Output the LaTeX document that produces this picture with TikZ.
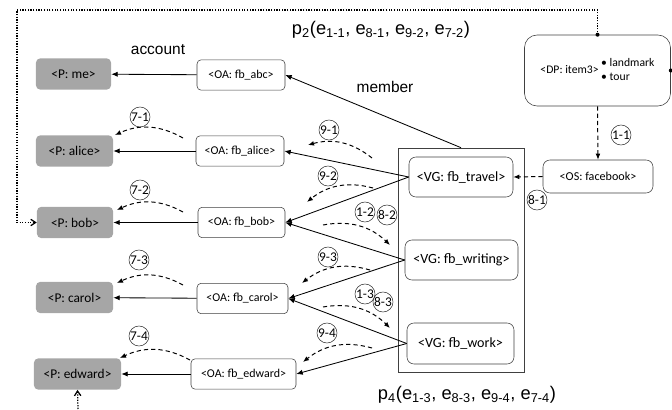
\documentclass[tikz,border=0pt]{standalone}
\usepackage{fontspec}
\setmainfont{Liberation Sans}
\newfontfamily\boxfont{Carlito}
\usetikzlibrary{arrows.meta,positioning}
\definecolor{PGray}{HTML}{A6A6A6}
\definecolor{BEdge}{HTML}{404040}

\begin{document}
\begin{tikzpicture}[
  x=0.025cm,y=0.025cm,
  pb/.style={fill=PGray,rounded corners=3pt,minimum height=0.78cm,
    font=\boxfont\fontsize{9.5}{11}\selectfont,inner sep=1pt},
  oa/.style={draw=BEdge,rounded corners=3pt,fill=white,minimum height=0.76cm,
    font=\boxfont\fontsize{8.5}{10}\selectfont,inner sep=1pt},
  vg/.style={draw=BEdge,rounded corners=5pt,fill=white,minimum height=1cm,
    font=\boxfont\fontsize{10}{12}\selectfont,inner sep=1pt},
  num/.style={circle,draw=black!80,inner sep=0pt,minimum size=0.5cm,
    font=\boxfont\fontsize{9.5}{10}\selectfont},
  big/.style={font=\fontsize{11}{13}\selectfont},
  a/.style={-{Latex[length=1.6mm,width=1.3mm]},line width=0.6pt},
  da/.style={-{Latex[length=1.5mm,width=1.2mm]},dash pattern=on 3pt off 2.2pt,line width=0.7pt},
  dt/.style={-{Straight Barb[length=1.2mm,width=1.6mm]},densely dotted,line width=0.9pt}
]
  \useasboundingbox (0,0) rectangle (672,409);

  % persons
  \node[pb,minimum width=1.875cm] (pme) at (73.5,335) {<P: me>};
  \node[pb,minimum width=1.925cm] (palice) at (74.5,258) {<P: alice>};
  \node[pb,minimum width=1.9cm] (pbob) at (75,186.5) {<P: bob>};
  \node[pb,minimum width=1.925cm] (pcarol) at (74.5,111.5) {<P: carol>};
  \node[pb,minimum width=2.175cm] (pedward) at (77.5,35) {<P: edward>};

  % online accounts
  \node[oa,minimum width=2.2cm] (oaabc) at (241,334) {<OA: fb\_abc>};
  \node[oa,minimum width=2.2cm] (oaalice) at (240,258) {<OA: fb\_alice>};
  \node[oa,minimum width=2.175cm] (oabob) at (241.5,186.5) {<OA: fb\_bob>};
  \node[oa,minimum width=2.275cm] (oacarol) at (242.5,110.5) {<OA: fb\_carol>};
  \node[oa,minimum width=2.625cm] (oaedward) at (243.5,35) {<OA: fb\_edward>};

  % groups
  \node[draw=BEdge,minimum width=3.15cm,minimum height=5.6cm] (grp) at (461,149) {};
  \node[vg,minimum width=2.6cm] (travel) at (461,232) {<VG: fb\_travel>};
  \node[vg,minimum width=2.825cm] (writing) at (461.5,149) {<VG: fb\_writing>};
  \node[vg,minimum width=2.675cm,minimum height=1.025cm] (work) at (460.5,65.5) {<VG: fb\_work>};

  \node[oa,rounded corners=5pt,minimum width=2.75cm,minimum height=0.825cm,
    font=\boxfont\fontsize{8.6}{10}\selectfont] (os) at (598,232.5) {<OS: facebook>};
  \node[draw=BEdge,rounded corners=9pt,minimum width=3.65cm,minimum height=1.775cm,
    inner sep=1pt,font=\boxfont\fontsize{8.3}{10}\selectfont] (dp) at (597.5,338.5)
    {<DP: item3>\ \begin{tabular}{@{}l@{}}\textbullet\ landmark\\\textbullet\ tour\end{tabular}};

  % texts
  \node[big] (acc) at (158,359) {account};
  \node[big] (mem) at (385,322) {member};
  \node[font=\fontsize{13}{15}\selectfont] (ptwo) at (381,379)
    {p\textsubscript{2}(e\textsubscript{1-1}, e\textsubscript{8-1}, e\textsubscript{9-2}, e\textsubscript{7-2})};
  \node[font=\fontsize{13}{15}\selectfont] (pfour) at (467,14)
    {p\textsubscript{4}(e\textsubscript{1-3}, e\textsubscript{8-3}, e\textsubscript{9-4}, e\textsubscript{7-4})};

  % solid connectors
  \foreach \x/\y in {abc/me,alice/alice,bob/bob,carol/carol,edward/edward}
    {\draw[a] (oa\x) -- (p\y);}
  \foreach \x/\y in {travel/alice,travel/bob,writing/bob,writing/carol,work/carol,work/edward}
    {\draw[a] (\x.west) -- (oa\y.east);}
  \draw[a] (grp.north) -- (oaabc.east);

  % dashed connectors
  \draw[da] (dp.south) -- (os.north);
  \draw[da] (os.west) -- (travel.east);
  \foreach \n/\sx/\sy/\ex/\ey/\b in {71/183/271/115/274/right,72/183/197/117/199/right,
      73/183/124/117/126/right,74/190/49/120/51/right,91/372/251/308/264/right,
      92/373/221/307/207/right,93/370/139/302/126/right,94/372/61/303/47/right,
      12/323/184/390/164/left,13/323/102/390/81/left}
    {\coordinate (s\n) at (\sx,\sy);
     \coordinate (e\n) at (\ex,\ey);
     \draw[da] (s\n) to[bend \b=27] (e\n);}

  % numbered edges
  \foreach \t/\x/\y in {7-1/140/292,7-2/140/219,7-3/139/149,7-4/139/73,
      9-1/329/279,9-2/328/233,9-3/328/152,9-4/327/76,1-2/365/197,8-2/387/194,
      1-3/365/115,8-3/383/107,1-1/621/274,8-1/537/209}
    {\node[num] (n\t) at (\x,\y) {\t};}

  % dotted links
  \coordinate (fr) at (17,399);
  \coordinate (ebot) at (78,0);
  \draw[dt] (dp.north) |- (fr) |- (pbob.west);
  \draw[dt] (ebot) -- (pedward.south);
  \fill (dp.north) circle (2);
  \fill (dp.east) circle (2);
\end{tikzpicture}
\end{document}
